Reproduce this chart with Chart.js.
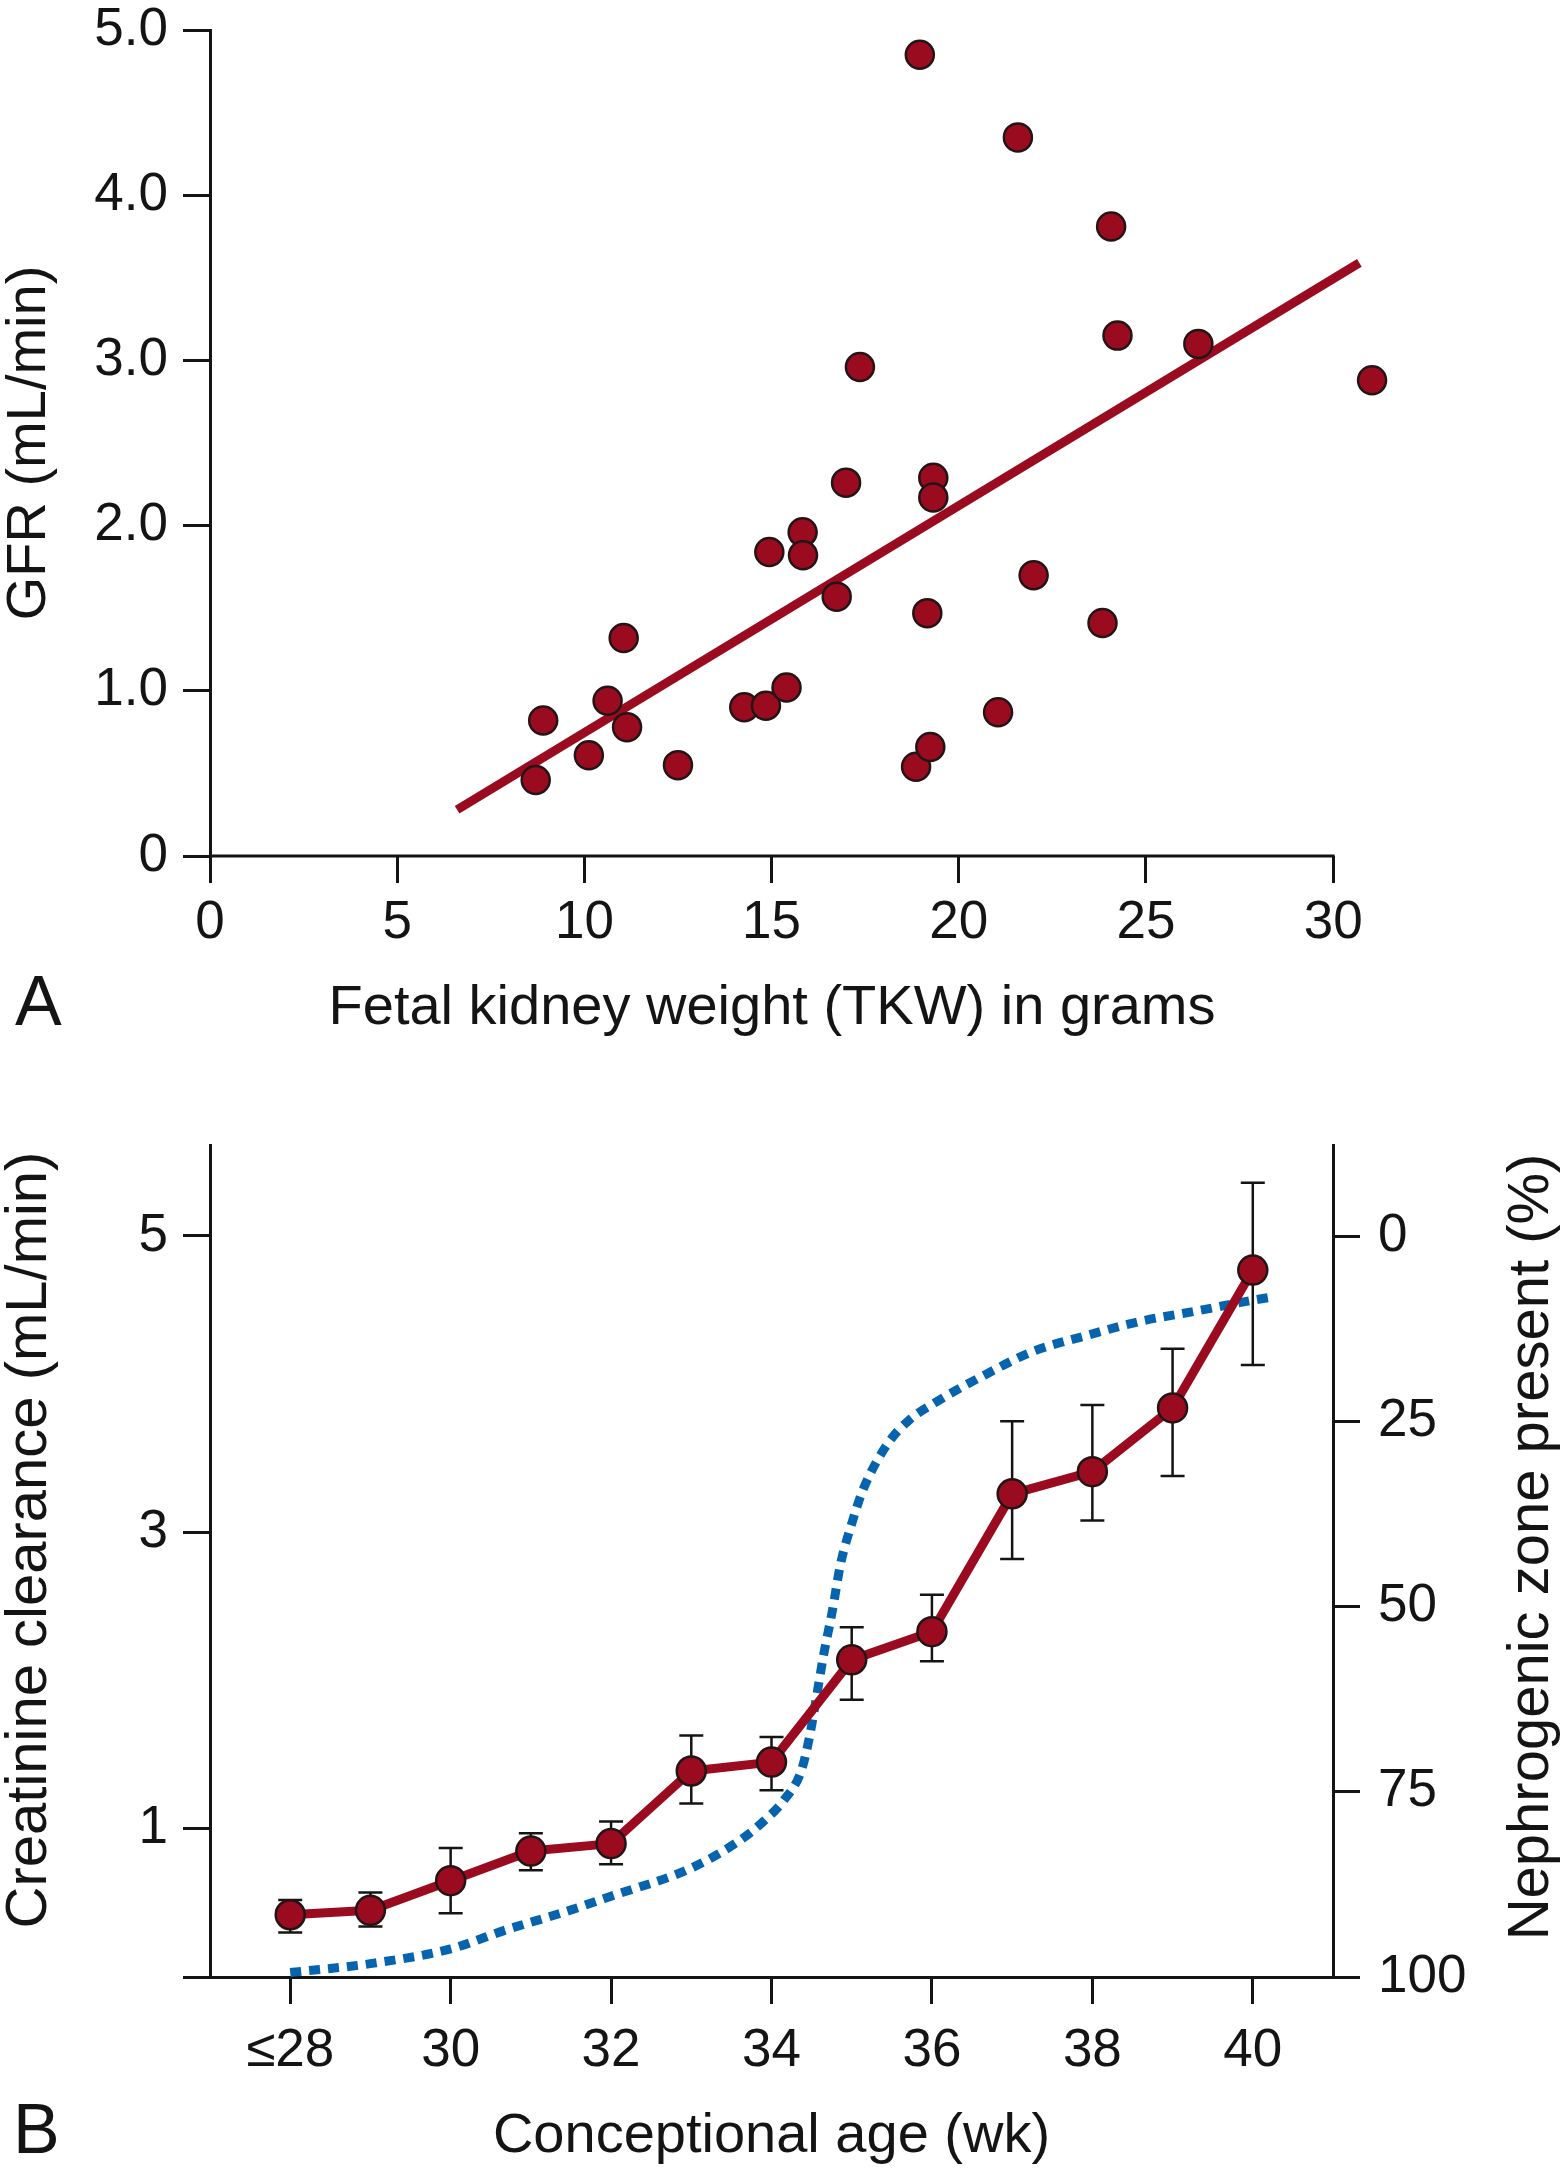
<!DOCTYPE html>
<html>
<head>
<meta charset="utf-8">
<script src="https://cdn.jsdelivr.net/npm/chart.js@4.4.0/dist/chart.umd.min.js"></script>
<style>
  body { margin: 0; background: #fff; }
  #wrap { position: relative; width: 1565px; height: 2169px; }
  canvas { position: absolute; left: 0; }
  #chartA { top: 0; }
  #chartB { top: 1080px; }
</style>
</head>
<body>
<div id="wrap">
  <canvas id="chartA" width="1565" height="1060"></canvas>
  <canvas id="chartB" width="1565" height="1089"></canvas>
</div>
<script>
// ---- panel A: GFR vs fetal kidney weight ----
var kidneyWeight = [8.70, 8.90, 10.12, 10.62, 11.05, 11.14, 12.50, 14.27, 14.85, 14.94,
                    15.40, 15.83, 15.84, 16.74, 16.99, 17.36, 18.96, 18.86, 19.24, 19.16,
                    19.32, 19.32, 21.05, 21.58, 22.00, 23.84, 24.07, 24.24, 26.40, 31.04];
var gfr = [0.46, 0.82, 0.61, 0.94, 1.32, 0.78, 0.55, 0.90, 0.91, 1.84,
           1.02, 1.96, 1.82, 1.57, 2.26, 2.96, 4.85, 0.54, 0.66, 1.47,
           2.29, 2.17, 0.87, 4.35, 1.70, 1.41, 3.81, 3.15, 3.10, 2.88];
var fitX = [6.6, 30.7];
var fitY = [0.28, 3.59];
var weightTicks = [0, 5, 10, 15, 20, 25, 30];
var gfrTicks = [0, 1, 2, 3, 4, 5];
var gfrTickLabels = ['0', '1.0', '2.0', '3.0', '4.0', '5.0'];

// ---- panel B: creatinine clearance and nephrogenic zone ----
var weeks = [28, 29, 30, 31, 32, 33, 34, 35, 36, 37, 38, 39, 40];
var clearance = [0.42, 0.45, 0.65, 0.85, 0.90, 1.39, 1.45, 2.14, 2.33, 3.26, 3.41, 3.84, 4.77];
var clearanceHigh = [0.52, 0.57, 0.87, 0.97, 1.05, 1.63, 1.62, 2.36, 2.58, 3.75, 3.86, 4.24, 5.36];
var clearanceLow = [0.30, 0.34, 0.43, 0.72, 0.76, 1.17, 1.26, 1.87, 2.13, 2.82, 3.08, 3.38, 4.13];
var zoneWeeks = [28.0, 29.0, 30.0, 30.7, 31.4, 32.0, 33.0, 33.6, 33.9, 34.15, 34.37, 34.47, 34.55, 34.65,
                 34.76, 34.86, 35.0, 35.15, 35.45, 35.72, 36.05, 36.7, 37.25, 37.9, 38.6, 39.3, 40.0, 40.25];
var zonePercent = [99.4, 98.2, 96.2, 93.6, 91.3, 89.1, 85.3, 81.6, 79.0, 76.2, 72.2, 67.8, 62.9, 56.5,
                   50.5, 44.3, 38.8, 34.0, 28.0, 24.8, 22.4, 18.5, 15.6, 13.5, 11.5, 10.1, 8.65, 8.2];
var ageTicks = [28, 30, 32, 34, 36, 38, 40];
var ageTickLabels = ['\u226428', '30', '32', '34', '36', '38', '40'];
var clearanceTicks = [0, 1, 3, 5];
var clearanceTickLabels = ['', '1', '3', '5'];
var zoneTicks = [0, 25, 50, 75, 100];

var FONT = '"Liberation Sans", Arial, Helvetica, sans-serif';
var RED = '#9b0b1f';
var BLUE = '#0664ae';
var INK = '#141414';

Chart.defaults.font.family = FONT;
Chart.defaults.color = INK;

function toPoints(xs, ys) {
    return xs.map(function (v, i) { return { x: v, y: ys[i] }; });
}

function fixedTicks(values) {
    return function (scale) {
        scale.ticks = values.map(function (v) { return { value: v }; });
    };
}

function axisStyle(extra) {
    var base = {
        border: { display: true, color: INK, width: 3 },
        grid: { drawOnChartArea: false, drawTicks: true, tickLength: 27, color: INK, lineWidth: 3 },
        ticks: { font: { size: 53 }, color: INK, autoSkip: false, maxRotation: 0, minRotation: 0 }
    };
    for (var k in extra) {
        if (typeof extra[k] === 'object' && base[k]) {
            for (var j in extra[k]) base[k][j] = extra[k][j];
        } else {
            base[k] = extra[k];
        }
    }
    return base;
}

// free text: panel letters and the titles that Chart.js can't place as wanted
var freeText = {
    id: 'freeText',
    afterDraw: function (chart, args, opts) {
        var c = chart.ctx;
        (opts.items || []).forEach(function (t) {
            c.save();
            c.fillStyle = INK;
            c.font = t.size + 'px ' + FONT;
            c.textAlign = t.align || 'left';
            c.textBaseline = t.baseline || 'alphabetic';
            c.translate(t.x, t.y);
            if (t.rotate) c.rotate(t.rotate);
            c.fillText(t.text, 0, 0);
            c.restore();
        });
    }
};

// x axis line of panel A only runs from the first to the last tick
var tickSpanAxis = {
    id: 'tickSpanAxis',
    afterDatasetsDraw: function (chart) {
        var xs = chart.scales.x, ys = chart.scales.y, c = chart.ctx;
        var y0 = ys.getPixelForValue(0);
        c.save();
        c.strokeStyle = INK;
        c.lineWidth = 3;
        c.beginPath();
        c.moveTo(xs.getPixelForValue(weightTicks[0]), y0);
        c.lineTo(xs.getPixelForValue(weightTicks[weightTicks.length - 1]) + 1.5, y0);
        c.stroke();
        c.restore();
    }
};

var errorBars = {
    id: 'errorBars',
    beforeDatasetsDraw: function (chart) {
        var xs = chart.scales.x, ys = chart.scales.y, c = chart.ctx;
        c.save();
        c.strokeStyle = INK;
        c.lineWidth = 2.5;
        weeks.forEach(function (w, i) {
            var px = xs.getPixelForValue(w);
            var top = ys.getPixelForValue(clearanceHigh[i]);
            var bot = ys.getPixelForValue(clearanceLow[i]);
            c.beginPath();
            c.moveTo(px, top); c.lineTo(px, bot);
            c.moveTo(px - 12, top); c.lineTo(px + 12, top);
            c.moveTo(px - 12, bot); c.lineTo(px + 12, bot);
            c.stroke();
        });
        c.restore();
    }
};

var ctxA = document.getElementById('chartA');
var chartA = new Chart(ctxA, {
    type: 'scatter',
    data: {
        datasets: [
            {
                label: 'GFR',
                data: toPoints(kidneyWeight, gfr),
                pointRadius: 14,
                pointBorderWidth: 2.5,
                pointBackgroundColor: RED,
                pointBorderColor: '#231416',
                clip: false,
                order: 1
            },
            {
                label: 'fit',
                data: toPoints(fitX, fitY),
                showLine: true,
                pointRadius: 0,
                borderColor: RED,
                borderWidth: 9,
                borderCapStyle: 'butt',
                clip: false,
                order: 2
            }
        ]
    },
    options: {
        responsive: false,
        devicePixelRatio: 1,
        animation: false,
        events: [],
        layout: { padding: { top: 30, right: 157, bottom: 0, left: 0 } },
        plugins: {
            legend: { display: false },
            tooltip: { enabled: false },
            freeText: {
                items: [
                    { text: 'A', x: 15, y: 1025, size: 70 },
                    { text: 'Fetal kidney weight (TKW) in grams', x: 772, y: 1009, size: 56,
                      align: 'center', baseline: 'middle' }
                ]
            }
        },
        scales: {
            x: axisStyle({
                type: 'linear', min: 0, max: 32,
                border: { display: false },
                afterBuildTicks: fixedTicks(weightTicks),
                afterFit: function (s) { s.height = 204; s.paddingLeft = 0; s.paddingRight = 0; },
                ticks: { padding: 9 }
            }),
            y: axisStyle({
                type: 'linear', min: 0, max: 5,
                afterBuildTicks: fixedTicks(gfrTicks),
                afterFit: function (s) { s.width = 210; s.paddingTop = 0; s.paddingBottom = 0; },
                ticks: { padding: 15, callback: function (v, i) { return gfrTickLabels[i]; } },
                title: { display: true, text: 'GFR (mL/min)', color: INK,
                         font: { size: 56, lineHeight: 1 }, padding: { top: 2, bottom: 0 } }
            })
        }
    },
    plugins: [freeText, tickSpanAxis]
});

var ctxB = document.getElementById('chartB');
var chartB = new Chart(ctxB, {
    type: 'scatter',
    data: {
        datasets: [
            {
                label: 'Creatinine clearance',
                data: toPoints(weeks, clearance),
                showLine: true,
                borderColor: RED,
                borderWidth: 9,
                borderJoinStyle: 'round',
                pointRadius: 14.5,
                pointBorderWidth: 2.5,
                pointBackgroundColor: RED,
                pointBorderColor: '#231416',
                yAxisID: 'y',
                clip: false,
                order: 1
            },
            {
                label: 'Nephrogenic zone present',
                data: toPoints(zoneWeeks, zonePercent),
                showLine: true,
                borderColor: BLUE,
                borderWidth: 9,
                borderDash: [11, 8],
                borderCapStyle: 'butt',
                cubicInterpolationMode: 'monotone',
                pointRadius: 0,
                yAxisID: 'y2',
                clip: false,
                order: 2
            }
        ]
    },
    options: {
        responsive: false,
        devicePixelRatio: 1,
        animation: false,
        events: [],
        layout: { padding: { top: 65, right: 0, bottom: 0, left: 0 } },
        plugins: {
            legend: { display: false },
            tooltip: { enabled: false },
            freeText: {
                items: [
                    { text: 'B', x: 13, y: 1073, size: 70 },
                    { text: 'Creatinine clearance (mL/min)', x: 30, y: 460, size: 58,
                      align: 'center', baseline: 'middle', rotate: -Math.PI / 2 },
                    { text: 'Nephrogenic zone present (%)', x: 1532, y: 467, size: 58,
                      align: 'center', baseline: 'middle', rotate: -Math.PI / 2 }
                ]
            }
        },
        scales: {
            x: axisStyle({
                type: 'linear', min: 27, max: 41,
                afterBuildTicks: fixedTicks(ageTicks),
                afterFit: function (s) { s.height = 192; s.paddingLeft = 0; s.paddingRight = 0; },
                ticks: { padding: 16, callback: function (v, i) { return ageTickLabels[i]; } },
                title: { display: true, text: 'Conceptional age (wk)', color: INK,
                         font: { size: 56, lineHeight: 1 }, padding: { top: 0, bottom: 4 } }
            }),
            y: axisStyle({
                type: 'linear', position: 'left', min: 0, max: 5.614,
                afterBuildTicks: fixedTicks(clearanceTicks),
                afterFit: function (s) { s.width = 210; s.paddingTop = 0; s.paddingBottom = 0; },
                ticks: { padding: 15, callback: function (v, i) { return clearanceTickLabels[i]; } }
            }),
            y2: axisStyle({
                type: 'linear', position: 'right', min: -12.3, max: 100, reverse: true,
                afterBuildTicks: fixedTicks(zoneTicks),
                afterFit: function (s) { s.width = 232; s.paddingTop = 0; s.paddingBottom = 0; },
                ticks: { padding: 18 }
            })
        }
    },
    plugins: [freeText, errorBars]
});
</script>
</body>
</html>
